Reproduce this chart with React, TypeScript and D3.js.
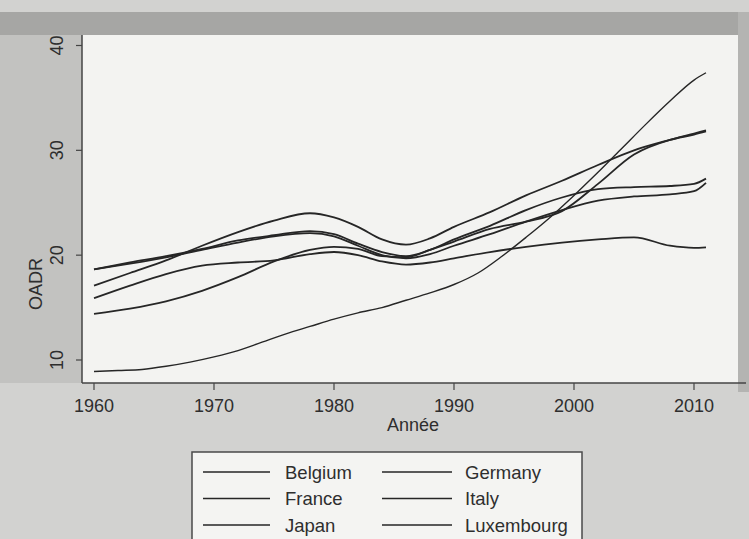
import React from "react";
import * as d3 from "d3";

const years = [1960, 1963, 1966, 1969, 1972, 1975, 1978, 1980, 1982, 1984, 1986, 1988, 1990, 1993, 1996, 1999, 2002, 2005, 2008, 2010, 2011];
const belgium = [18.65, 19.3, 19.9, 20.6, 21.4, 21.9, 22.3, 22.0, 21.1, 20.3, 19.9, 20.5, 21.5, 22.8, 24.3, 25.5, 26.3, 26.5, 26.6, 26.8, 27.3];
const france = [18.65, 19.2, 19.8, 20.5, 21.2, 21.8, 22.1, 21.8, 20.9, 20.0, 19.7, 20.1, 20.9, 22.0, 23.2, 24.3, 25.2, 25.6, 25.8, 26.1, 26.9];
const germany = [17.1, 18.3, 19.5, 20.9, 22.2, 23.3, 24.0, 23.6, 22.7, 21.5, 21.0, 21.6, 22.7, 24.1, 25.7, 27.1, 28.6, 30.0, 31.0, 31.6, 31.9];
const italy = [14.4, 14.9, 15.6, 16.6, 17.9, 19.4, 20.5, 20.8, 20.6, 19.9, 19.8, 20.5, 21.3, 22.5, 23.2, 24.2, 26.8, 29.6, 31.0, 31.5, 31.8];
const luxembourg = [15.9, 17.1, 18.2, 19.0, 19.3, 19.5, 20.1, 20.3, 20.0, 19.4, 19.1, 19.3, 19.7, 20.3, 20.8, 21.2, 21.5, 21.7, 20.9, 20.7, 20.75];
const japanYears = [1960, 1962, 1964, 1966, 1968, 1970, 1972, 1974, 1976, 1978, 1980, 1982, 1984, 1986, 1988, 1990, 1992, 1994, 1996, 1998, 2000, 2002, 2004, 2006, 2008, 2010, 2011];
const japan = [8.9, 9.0, 9.1, 9.4, 9.8, 10.3, 10.9, 11.7, 12.5, 13.2, 13.9, 14.5, 15.0, 15.7, 16.4, 17.2, 18.3, 19.9, 21.7, 23.6, 25.7, 27.9, 30.2, 32.5, 34.7, 36.7, 37.4];

const xTicks = [1960, 1970, 1980, 1990, 2000, 2010];
const yTicks = [10, 20, 30, 40];
const legendLeft = ["Belgium", "France", "Japan"];
const legendRight = ["Germany", "Italy", "Luxembourg"];

const FONT = "'Liberation Sans', Arial, sans-serif";

export default function App() {
  const W = 749, H = 539;
  const x = d3.scaleLinear().domain([1960, 2010]).range([94, 694]);
  const y = d3.scaleLinear().domain([10, 40]).range([360, 45.5]);
  const line = d3.line<[number, number]>().x(d => x(d[0])).y(d => y(d[1])).curve(d3.curveMonotoneX);
  const series = [
    { name: "Belgium", ys: years, vs: belgium, w: 1.8 },
    { name: "France", ys: years, vs: france, w: 1.8 },
    { name: "Germany", ys: years, vs: germany, w: 1.8 },
    { name: "Italy", ys: years, vs: italy, w: 1.8 },
    { name: "Luxembourg", ys: years, vs: luxembourg, w: 1.8 },
    { name: "Japan", ys: japanYears, vs: japan, w: 1.4 },
  ];
  const axisY = 383, axisX = 82;
  const textColor = "#2e2e2e";
  return (
    <svg width={W} height={H} style={{ position: "absolute", left: 0, top: 0 }}>
      <rect x={0} y={0} width={W} height={H} fill="#d2d2d0" />
      <rect x={0} y={12} width={W} height={23} fill="#a6a6a4" />
      <rect x={0} y={35} width={axisX} height={axisY - 35} fill="#c2c2c0" />
      <rect x={738} y={12} width={11} height={380} fill="#b4b4b2" />
      <rect x={axisX} y={35} width={738 - axisX} height={axisY - 35} fill="#f3f3f1" />
      {/* axes */}
      <line x1={axisX} y1={35} x2={axisX} y2={axisY} stroke="#444" strokeWidth={1.5} />
      <line x1={axisX} y1={axisY} x2={746} y2={axisY} stroke="#444" strokeWidth={1.5} />
      {yTicks.map(t => (
        <g key={t}>
          <line x1={axisX - 6} x2={axisX} y1={y(t)} y2={y(t)} stroke="#444" strokeWidth={1.2} />
          <text transform={`translate(63,${y(t)}) rotate(-90)`} textAnchor="middle" fontFamily={FONT} fontSize={18} fill={textColor}>{t}</text>
        </g>
      ))}
      {xTicks.map(t => (
        <g key={t}>
          <line x1={x(t)} x2={x(t)} y1={axisY} y2={axisY + 7} stroke="#444" strokeWidth={1.2} />
          <text x={x(t)} y={412} textAnchor="middle" fontFamily={FONT} fontSize={18} fill={textColor}>{t}</text>
        </g>
      ))}
      <text x={413} y={431} textAnchor="middle" fontFamily={FONT} fontSize={18} fill={textColor}>Année</text>
      <text transform={`translate(42,284) rotate(-90)`} textAnchor="middle" fontFamily={FONT} fontSize={18} fill={textColor}>OADR</text>
      {/* lines */}
      {series.map(s => (
        <path key={s.name} d={line(s.ys.map((yr, i) => [yr, s.vs[i]] as [number, number])) || ""} fill="none" stroke="#262626" strokeWidth={s.w} />
      ))}
      {/* legend */}
      <rect x={192} y={452} width={390} height={95} fill="#f4f4f2" stroke="#4a4a4a" strokeWidth={1.5} />
      {legendLeft.map((n, i) => (
        <g key={n}>
          <line x1={203} x2={270} y1={472 + i * 26.5} y2={472 + i * 26.5} stroke="#262626" strokeWidth={1.6} />
          <text x={285} y={478.5 + i * 26.5} fontFamily={FONT} fontSize={18.5} fill={textColor}>{n}</text>
        </g>
      ))}
      {legendRight.map((n, i) => (
        <g key={n}>
          <line x1={382} x2={452} y1={472 + i * 26.5} y2={472 + i * 26.5} stroke="#262626" strokeWidth={1.6} />
          <text x={465} y={478.5 + i * 26.5} fontFamily={FONT} fontSize={18.5} fill={textColor}>{n}</text>
        </g>
      ))}
    </svg>
  );
}
